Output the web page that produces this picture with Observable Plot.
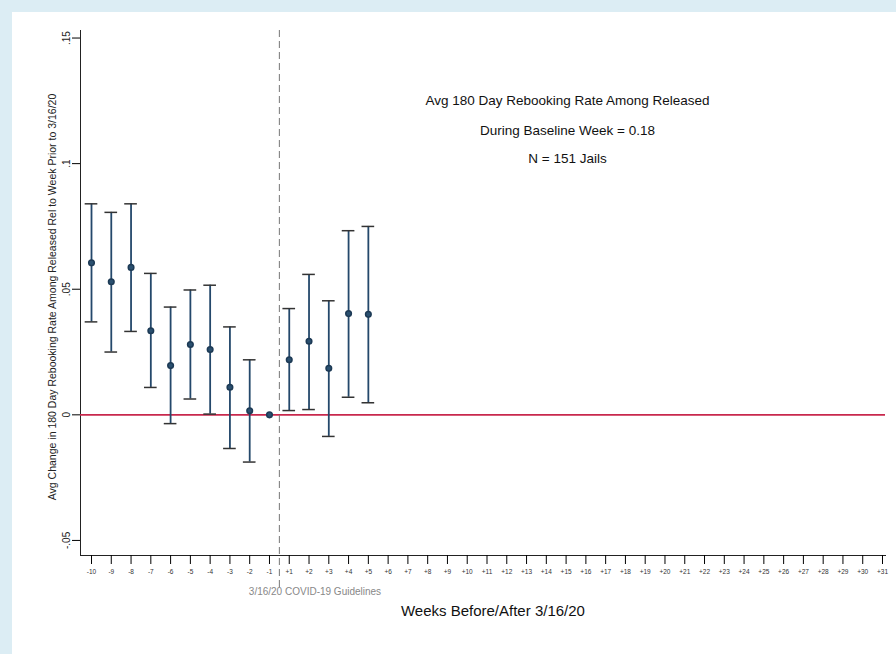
<!DOCTYPE html>
<html><head><meta charset="utf-8">
<script src="https://cdn.jsdelivr.net/npm/d3@7"></script>
<script src="https://cdn.jsdelivr.net/npm/@observablehq/plot@0.6"></script>
<style>
body{margin:0;background:#dcedf4;width:896px;height:654px;overflow:hidden;font-family:"Liberation Sans",Arial,sans-serif}
#panel{position:absolute;left:12px;top:12px;width:884px;height:642px;background:#fff}
</style></head><body><div id="panel"></div>
<script>
const weekLabels = ["-10","-9","-8","-7","-6","-5","-4","-3","-2","-1",
  "+1","+2","+3","+4","+5","+6","+7","+8","+9","+10","+11","+12","+13","+14","+15","+16","+17","+18","+19","+20","+21","+22","+23","+24","+25","+26","+27","+28","+29","+30","+31"];
const estWeeks = ["-10","-9","-8","-7","-6","-5","-4","-3","-2","-1","+1","+2","+3","+4","+5"];
const estimate = [0.0605,0.053,0.0587,0.0335,0.0196,0.028,0.026,0.011,0.0016,0,0.0219,0.0293,0.0185,0.0403,0.040];
const ciLow =   [0.037,0.025,0.0332,0.0109,-0.0035,0.0063,0.0003,-0.0134,-0.0188,null,0.0017,0.0021,-0.0086,0.007,0.0048];
const ciHigh =  [0.084,0.0806,0.084,0.0563,0.0429,0.0497,0.0516,0.035,0.0219,null,0.0423,0.0559,0.0454,0.0733,0.075];
const yTicks = [-0.05,0,0.05,0.1,0.15];
const noteLines = ["Avg 180 Day Rebooking Rate Among Released","During Baseline Week = 0.18","N = 151 Jails"];

const rows = estWeeks.map((w,i)=>({x:weekLabels.indexOf(w),est:estimate[i],lo:ciLow[i],hi:ciHigh[i]}));
const ci = rows.filter(d=>d.lo!=null);
const fmt = v => v===0 ? "0" : (v<0?"-":"") + String(Math.abs(v)).replace(/^0/,"");
const navy = "#24486b";
const notes = noteLines.map((t,i)=>({t, y:[0.1251,0.1132,0.1020][i]}));

const chart = Plot.plot({
  width:884, height:642,
  marginLeft:68, marginRight:11, marginTop:18, marginBottom:99,
  style:{fontFamily:"Liberation Sans, Arial, sans-serif", background:"#fff"},
  x:{type:"linear", domain:[0,40], range:[79,870]},
  y:{domain:[-0.056,0.153]},
  marks:[
    Plot.frame({anchor:"left", stroke:"#222"}),
    Plot.frame({anchor:"bottom", stroke:"#222"}),
    Plot.axisY({ticks:yTicks, tickFormat:()=>"", tickSize:8, label:null}),
    Plot.text(yTicks,{frameAnchor:"left", y:d=>d, text:fmt, dx:-14, rotate:-90, textAnchor:"middle", fontSize:10, fill:"#222"}),
    Plot.axisX({ticks:d3.range(41), tickFormat:i=>weekLabels[i], tickSize:9, tickPadding:5, fontSize:6.5, label:null, fill:"#333"}),
    Plot.text(["Avg Change in 180 Day Rebooking Rate Among Released Rel to Week Prior to 3/16/20"],{frameAnchor:"left", dx:-28, dy:4, rotate:-90, textAnchor:"middle", fontSize:10.5, fill:"#222"}),
    Plot.ruleY([0],{stroke:"#c8284d", strokeWidth:1.6}),
    Plot.ruleX([9.5],{y1:0.153, y2:-0.0695, stroke:"#777", strokeDasharray:"7,4", strokeWidth:1}),
    Plot.ruleX(ci,{x:"x", y1:"lo", y2:"hi", stroke:navy, strokeWidth:1.8}),
    Plot.ruleY(ci,{y:"hi", x1:d=>d.x-0.32, x2:d=>d.x+0.32, stroke:"#333", strokeWidth:1.5}),
    Plot.ruleY(ci,{y:"lo", x1:d=>d.x-0.32, x2:d=>d.x+0.32, stroke:"#333", strokeWidth:1.5}),
    Plot.dot(rows,{x:"x", y:"est", r:2.8, fill:"#2a5070", stroke:"#1d3a55"}),
    Plot.text(notes,{x:24.07, y:"y", text:"t", fontSize:13.5, fill:"#111"}),
    Plot.text(["3/16/20 COVID-19 Guidelines"],{x:11.3, y:-0.0705, fontSize:10, fill:"#888"}),
    Plot.text(["Weeks Before/After 3/16/20"],{x:20.3, y:-0.078, fontSize:15, fill:"#111"})
  ]
});
document.getElementById("panel").appendChild(chart);
</script></body></html>
